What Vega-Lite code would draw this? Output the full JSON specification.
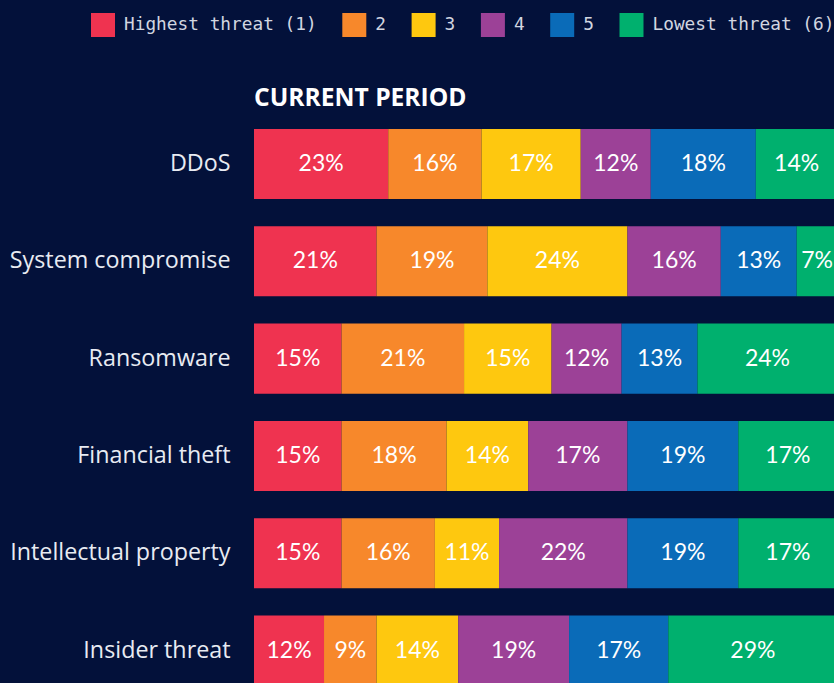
{
  "$schema": "https://vega.github.io/schema/vega-lite/v6.json",
  "width": 580,
  "height": 568,
  "autosize": {"type": "none"},
  "padding": {"left": 254, "top": 115, "right": 0, "bottom": 0},
  "background": "#03113a",
  "title": {
    "text": "CURRENT PERIOD",
    "anchor": "start",
    "frame": "group",
    "font": "Open Sans",
    "fontSize": 24.6,
    "fontWeight": "bold",
    "color": "#ffffff",
    "offset": 3,
    "dy": 102
  },
  "data": {
    "values": [
      {"attack": "DDoS", "threat": "Highest threat (1)", "level": 1, "share": 0.23},
      {"attack": "DDoS", "threat": "2", "level": 2, "share": 0.16},
      {"attack": "DDoS", "threat": "3", "level": 3, "share": 0.17},
      {"attack": "DDoS", "threat": "4", "level": 4, "share": 0.12},
      {"attack": "DDoS", "threat": "5", "level": 5, "share": 0.18},
      {"attack": "DDoS", "threat": "Lowest threat (6)", "level": 6, "share": 0.14},
      {"attack": "System compromise", "threat": "Highest threat (1)", "level": 1, "share": 0.21},
      {"attack": "System compromise", "threat": "2", "level": 2, "share": 0.19},
      {"attack": "System compromise", "threat": "3", "level": 3, "share": 0.24},
      {"attack": "System compromise", "threat": "4", "level": 4, "share": 0.16},
      {"attack": "System compromise", "threat": "5", "level": 5, "share": 0.13},
      {"attack": "System compromise", "threat": "Lowest threat (6)", "level": 6, "share": 0.07},
      {"attack": "Ransomware", "threat": "Highest threat (1)", "level": 1, "share": 0.15},
      {"attack": "Ransomware", "threat": "2", "level": 2, "share": 0.21},
      {"attack": "Ransomware", "threat": "3", "level": 3, "share": 0.15},
      {"attack": "Ransomware", "threat": "4", "level": 4, "share": 0.12},
      {"attack": "Ransomware", "threat": "5", "level": 5, "share": 0.13},
      {"attack": "Ransomware", "threat": "Lowest threat (6)", "level": 6, "share": 0.24},
      {"attack": "Financial theft", "threat": "Highest threat (1)", "level": 1, "share": 0.15},
      {"attack": "Financial theft", "threat": "2", "level": 2, "share": 0.18},
      {"attack": "Financial theft", "threat": "3", "level": 3, "share": 0.14},
      {"attack": "Financial theft", "threat": "4", "level": 4, "share": 0.17},
      {"attack": "Financial theft", "threat": "5", "level": 5, "share": 0.19},
      {"attack": "Financial theft", "threat": "Lowest threat (6)", "level": 6, "share": 0.17},
      {"attack": "Intellectual property", "threat": "Highest threat (1)", "level": 1, "share": 0.15},
      {"attack": "Intellectual property", "threat": "2", "level": 2, "share": 0.16},
      {"attack": "Intellectual property", "threat": "3", "level": 3, "share": 0.11},
      {"attack": "Intellectual property", "threat": "4", "level": 4, "share": 0.22},
      {"attack": "Intellectual property", "threat": "5", "level": 5, "share": 0.19},
      {"attack": "Intellectual property", "threat": "Lowest threat (6)", "level": 6, "share": 0.17},
      {"attack": "Insider threat", "threat": "Highest threat (1)", "level": 1, "share": 0.12},
      {"attack": "Insider threat", "threat": "2", "level": 2, "share": 0.09},
      {"attack": "Insider threat", "threat": "3", "level": 3, "share": 0.14},
      {"attack": "Insider threat", "threat": "4", "level": 4, "share": 0.19},
      {"attack": "Insider threat", "threat": "5", "level": 5, "share": 0.17},
      {"attack": "Insider threat", "threat": "Lowest threat (6)", "level": 6, "share": 0.29}
    ]
  },
  "transform": [
    {"stack": "share", "groupby": ["attack"], "sort": [{"field": "level", "order": "ascending"}], "as": ["x0", "x1"], "offset": "zero"}
  ],
  "encoding": {
    "y": {
      "field": "attack",
      "type": "nominal",
      "sort": ["DDoS", "System compromise", "Ransomware", "Financial theft", "Intellectual property", "Insider threat"],
      "scale": {"range": [14, 570.6], "paddingInner": 0.28, "paddingOuter": 0},
      "axis": {
        "title": null,
        "domain": false,
        "ticks": false,
        "grid": false,
        "labelFont": "Open Sans",
        "labelFontSize": 23.3,
        "labelColor": "#e8ebf2",
        "labelPadding": 24,
        "labelLimit": 300
      }
    }
  },
  "layer": [
    {
      "mark": {"type": "bar", "clip": true},
      "encoding": {
        "x": {
          "field": "x0",
          "type": "quantitative",
          "scale": {"domain": [0, 0.994], "nice": false, "zero": true},
          "axis": null
        },
        "x2": {"field": "x1"},
        "color": {
          "field": "threat",
          "type": "nominal",
          "scale": {
            "domain": ["Highest threat (1)", "2", "3", "4", "5", "Lowest threat (6)"],
            "range": ["#ef3350", "#f7882b", "#fec80f", "#9c4197", "#0a6bb8", "#00b06e"]
          },
          "legend": {
            "title": null,
            "orient": "none",
            "direction": "horizontal",
            "legendX": -163,
            "legendY": -102,
            "padding": 0,
            "symbolType": "square",
            "symbolSize": 576,
            "symbolStrokeWidth": 0,
            "symbolOpacity": 1,
            "labelFont": "DejaVu Sans Mono",
            "labelFontSize": 17.8,
            "labelColor": "#d2d6e0",
            "labelOffset": 9,
            "columnPadding": 25.3,
            "labelLimit": 400
          }
        }
      }
    },
    {
      "transform": [
        {"fold": ["x0", "x1"], "as": ["edge", "pos"]},
        {"aggregate": [{"op": "mean", "field": "pos", "as": "mid"}], "groupby": ["attack", "level", "share"]}
      ],
      "mark": {"type": "text", "clip": true, "font": "Lato", "fontSize": 23, "color": "#ffffff", "baseline": "middle", "align": "center"},
      "encoding": {
        "x": {"field": "mid", "type": "quantitative"},
        "text": {"field": "share", "type": "quantitative", "format": ".0%"}
      }
    }
  ],
  "config": {
    "view": {"stroke": null}
  }
}
